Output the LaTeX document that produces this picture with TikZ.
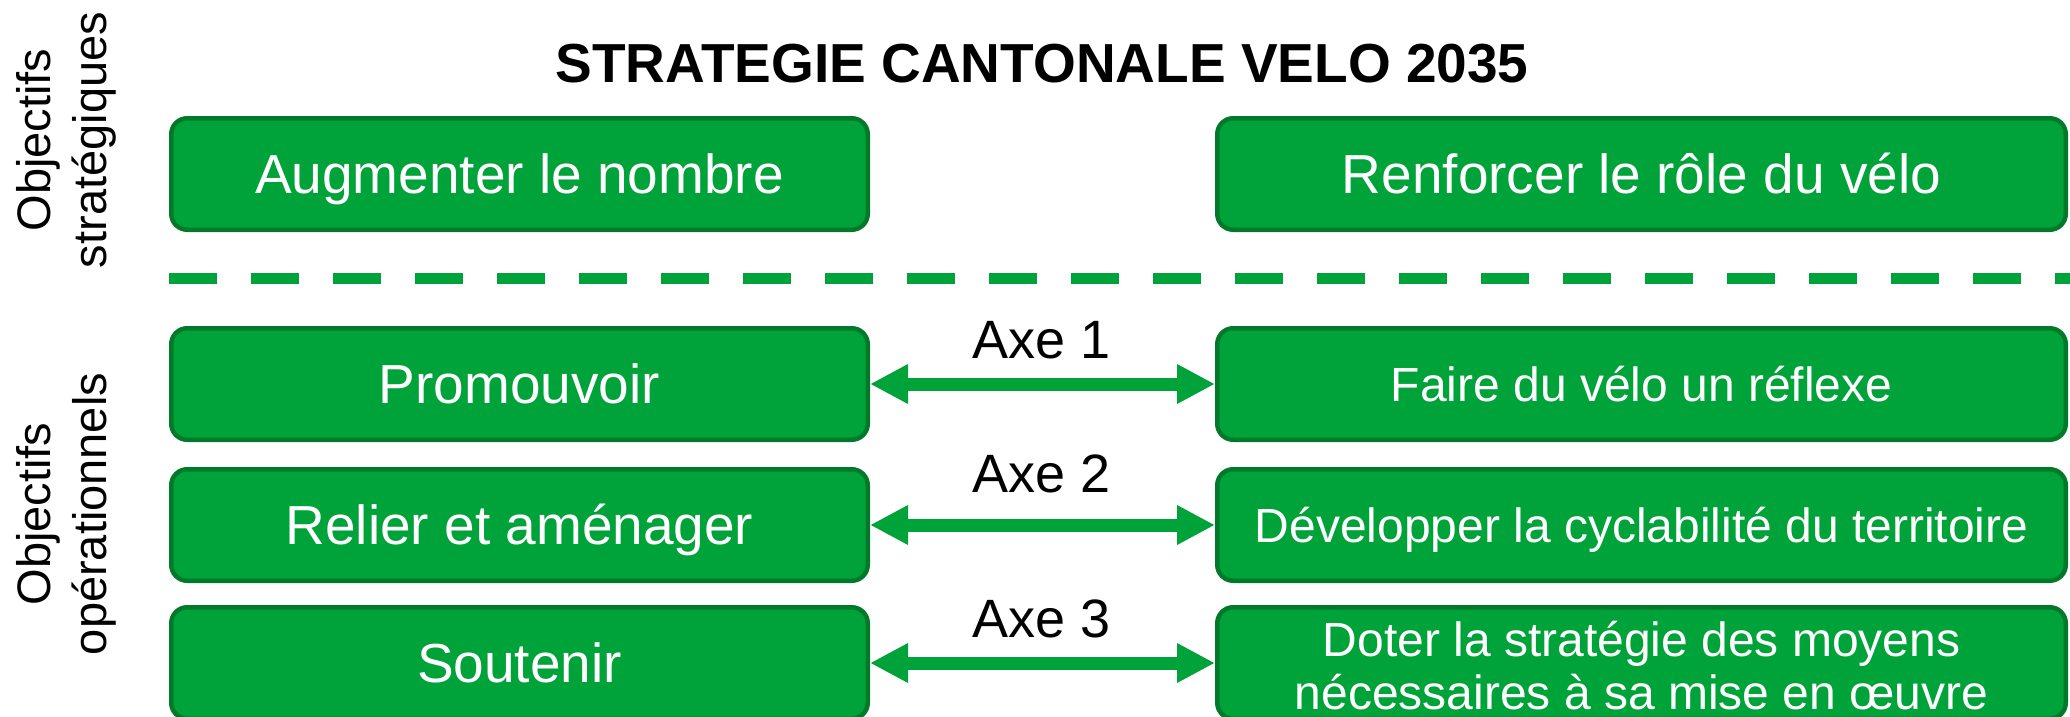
\documentclass[tikz,border=0pt]{standalone}
\usepackage{fontspec}
\setmainfont{Liberation Sans}
\usetikzlibrary{arrows.meta}
\definecolor{vgreen}{RGB}{0,163,57}
\definecolor{vborder}{RGB}{0,122,42}
\begin{document}
\begin{tikzpicture}[x=1pt,y=-1pt,
  box/.style={draw=vborder, line width=4.5pt, fill=vgreen, rounded corners=16pt,
    text=white, inner sep=0pt, minimum height=111.5pt, text depth=0pt},
  lbox/.style={box, minimum width=696.5pt, font=\fontsize{55}{60}\selectfont, text height=39.4pt},
  rbox/.style={box, minimum width=848.5pt, font=\fontsize{48}{53}\selectfont, text height=34.4pt},
  rtext/.style={text=white, inner sep=0pt, anchor=base, font=\fontsize{48}{53}\selectfont},
  axe/.style={line width=13pt, draw=vgreen, {Triangle[length=38pt,width=37pt]}-{Triangle[length=38pt,width=37pt]}},
  axelabel/.style={font=\fontsize{54}{60}\selectfont, anchor=base, inner sep=0pt},
  side/.style={rotate=90, align=center, font=\fontsize{47}{56}\selectfont, inner sep=0pt},
  sep/.style={draw=vgreen, line width=11pt, dash pattern=on 48pt off 34pt}
]
\clip (0,0) rectangle (2070,717);
\fill[white] (0,0) rectangle (2070,717);

\node[font=\fontsize{55}{60}\selectfont\bfseries, anchor=base, inner sep=0pt] (title) at (1042,82) {STRATEGIE CANTONALE VELO 2035};

\node[side] (os) at (66,140) {Objectifs\\stratégiques};
\node[side] (oo) at (66,514) {Objectifs\\opérationnels};

\node[lbox] (aug) at (519.5,174) {Augmenter le nombre};
\node[rbox, font=\fontsize{55}{60}\selectfont, text height=39.4pt] (ren) at (1641.5,174) {Renforcer le rôle du vélo};

\coordinate (sepL) at (169,278);
\coordinate (sepR) at (2070,278);
\draw[sep] (sepL) -- (sepR);

\node[lbox] (pro) at (519.5,384) {Promouvoir};
\node[rbox] (fai) at (1641.5,384) {Faire du vélo un réflexe};
\node[lbox] (rel) at (519.5,525) {Relier et aménager};
\node[rbox] (dev) at (1641.5,525) {Développer la cyclabilité du territoire};
\node[lbox] (sou) at (519.5,663) {Soutenir};
\node[rbox] (dot) at (1641.5,663) {};
\node[rtext] (dotA) at (1641.5,656) {Doter la stratégie des moyens};
\node[rtext] (dotB) at (1641.5,709) {nécessaires à sa mise en œuvre};

\draw[axe] (pro.east) -- (fai.west);
\draw[axe] (rel.east) -- (dev.west);
\draw[axe] (sou.east) -- (dot.west);

\node[axelabel] (ax1) at (1042,358) {Axe 1};
\node[axelabel] (ax2) at (1042,492) {Axe 2};
\node[axelabel] (ax3) at (1042,637) {Axe 3};
\end{tikzpicture}
\end{document}
